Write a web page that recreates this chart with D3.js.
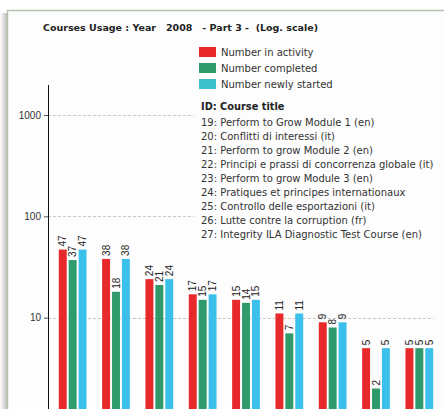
<!DOCTYPE html>
<html>
<head>
<meta charset="utf-8">
<script src="https://cdn.jsdelivr.net/npm/d3@7"></script>
<style>
  body { margin: 0; background: #fff; }
  svg { display: block; }
</style>
</head>
<body>
<div id="chart"></div>
<script>
// course ids (x categories)
const courseIds = ["19", "20", "21", "22", "23", "24", "25", "26", "27"];
const inActivity = [47, 38, 24, 17, 15, 11, 9, 5, 5];
const completed = [37, 18, 21, 15, 14, 7, 8, 2, 5];
const newlyStarted = [47, 38, 24, 17, 15, 11, 9, 5, 5];

const seriesNames = ["Number in activity", "Number completed", "Number newly started"];
const courseTitles = [
  "19: Perform to Grow Module 1 (en)",
  "20: Conflitti di interessi (it)",
  "21: Perform to grow Module 2 (en)",
  "22: Principi e prassi di concorrenza globale (it)",
  "23: Perform to grow Module 3 (en)",
  "24: Pratiques et principes internationaux",
  "25: Controllo delle esportazioni (it)",
  "26: Lutte contre la corruption (fr)",
  "27: Integrity ILA Diagnostic Test Course (en)"
];
const yTicks = [10, 100, 1000];

const barColors = ["#e8292b", "#2f9a6b", "#3bbfeb"];
const legendColors = ["#e8292b", "#2f9a6b", "#3cc0cb"];

const width = 444, height = 409;

const svg = d3.select("#chart").append("svg")
  .attr("width", width)
  .attr("height", height);

// panel with left shadow
const defs = svg.append("defs");
const grad = defs.append("linearGradient").attr("id", "shadow")
  .attr("x1", 0).attr("x2", 1).attr("y1", 0).attr("y2", 0);
grad.append("stop").attr("offset", "0%").attr("stop-color", "#ffffff");
grad.append("stop").attr("offset", "100%").attr("stop-color", "#bdbdbd");

svg.append("rect").attr("x", 0).attr("y", 13).attr("width", 7).attr("height", height)
  .attr("fill", "url(#shadow)");
svg.append("rect")
  .attr("x", 7.5).attr("y", 10.5)
  .attr("width", 450).attr("height", 420)
  .attr("fill", "#fdfdfd")
  .attr("stroke", "#b5c2ad")
  .attr("stroke-width", 1.5);

const x0 = d3.scaleBand().domain(courseIds).range([51, 441]).paddingInner(0.36).paddingOuter(0.18);
const x1 = d3.scaleBand().domain([0, 1, 2]).range([0, x0.bandwidth()]).paddingInner(0.2);
const y = d3.scaleLog().domain([1, 2000]).range([419, 84.5]);

// gridlines
svg.append("g").selectAll("line").data(yTicks).join("line")
  .attr("x1", 48).attr("x2", 434)
  .attr("y1", d => Math.round(y(d)) + 0.5).attr("y2", d => Math.round(y(d)) + 0.5)
  .attr("stroke", "#cfc6c0")
  .attr("stroke-dasharray", "3,2");

// bars
const series = [inActivity, completed, newlyStarted];
const rows = courseIds.map((id, i) => ({ id, values: series.map(s => s[i]) }));

const groups = svg.append("g").selectAll("g").data(rows).join("g")
  .attr("transform", d => `translate(${x0(d.id)},0)`);

groups.selectAll("rect").data(d => d.values.map((v, k) => ({ v, k }))).join("rect")
  .attr("x", d => x1(d.k))
  .attr("y", d => y(d.v))
  .attr("width", x1.bandwidth())
  .attr("height", d => y(1) - y(d.v))
  .attr("fill", d => barColors[d.k]);

groups.selectAll("text").data(d => d.values.map((v, k) => ({ v, k }))).join("text")
  .attr("transform", d => `translate(${x1(d.k) + x1.bandwidth() / 2},${y(d.v) - 3}) rotate(-90)`)
  .attr("dy", "0.35em")
  .attr("font-family", "Liberation Sans, Arial, sans-serif")
  .attr("font-size", 10)
  .attr("fill", "#222")
  .text(d => d.v);

// y axis
const yAxis = svg.append("g")
  .attr("transform", "translate(48,0)")
  .call(d3.axisLeft(y).tickValues(yTicks).tickFormat(d3.format("d")).tickSize(4).tickSizeOuter(0));
yAxis.select(".domain").attr("stroke", "#111");
yAxis.selectAll(".tick line").attr("stroke", "#555");
yAxis.selectAll("text")
  .attr("font-family", "Liberation Sans, Arial, sans-serif")
  .attr("font-size", 10)
  .attr("fill", "#333");

// title
svg.append("text")
  .attr("x", 43).attr("y", 31)
  .attr("font-family", "DejaVu Sans, Verdana, sans-serif")
  .attr("font-weight", "bold")
  .attr("font-size", 9.5)
  .attr("fill", "#222")
  .style("white-space", "pre")
  .text("Courses Usage : Year   2008   - Part 3 -  (Log. scale)");

// legend
svg.append("rect").attr("x", 194).attr("y", 40).attr("width", 246).attr("height", 202)
  .attr("fill", "#fdfdfd");

const legend = svg.append("g");
seriesNames.forEach((name, i) => {
  legend.append("rect")
    .attr("x", 199).attr("y", 47 + i * 16)
    .attr("width", 17).attr("height", 10)
    .attr("fill", legendColors[i]);
  legend.append("text")
    .attr("x", 221).attr("y", 55.5 + i * 16)
    .attr("font-family", "DejaVu Sans, Verdana, sans-serif")
    .attr("font-size", 10)
    .attr("fill", "#333")
    .text(name);
});

legend.append("text")
  .attr("x", 201).attr("y", 110)
  .attr("font-family", "DejaVu Sans, Verdana, sans-serif")
  .attr("font-weight", "bold")
  .attr("font-size", 9.8)
  .attr("fill", "#222")
  .text("ID: Course title");

legend.selectAll("text.title").data(courseTitles).join("text")
  .attr("class", "title")
  .attr("x", 201)
  .attr("y", (d, i) => 126 + i * 14)
  .attr("font-family", "DejaVu Sans, Verdana, sans-serif")
  .attr("font-size", 10)
  .attr("fill", "#333")
  .text(d => d);
</script>
</body>
</html>
